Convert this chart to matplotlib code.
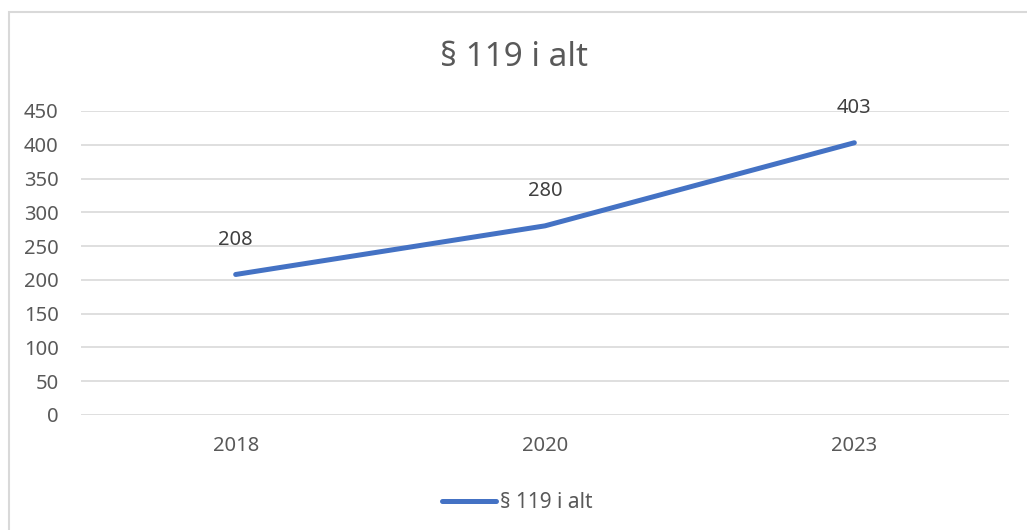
from matplotlib import pyplot as plt
from matplotlib.patches import Rectangle

years = ['2018', '2020', '2023']
values = [208, 280, 403]
series_name = '§ 119 i alt'
y_ticks = list(range(0, 451, 50))

plt.rcParams['font.family'] = ['Noto Sans', 'DejaVu Sans']

fig = plt.figure(figsize=(10.27, 5.30), dpi=100)
ax = fig.add_axes([81 / 1027, 1 - 415 / 530, 928 / 1027, 304 / 530])

x = range(len(years))
line, = ax.plot(x, values, color='#4472C4', linewidth=3.6, solid_capstyle='round',
                label=series_name)
for xi, v in zip(x, values):
    ax.annotate(str(v), (xi, v), xytext=(0, 25), textcoords='offset points',
                ha='center', va='center', fontsize=14.5, color='#404040')

ax.set_xlim(-0.5, len(years) - 0.5)
ax.set_ylim(0, 450)
ax.set_yticks(y_ticks)
ax.set_xticks(list(x))
ax.set_xticklabels(years)
ax.grid(axis='y', color='#d9d9d9', linewidth=1.2)
ax.set_axisbelow(True)
for s in ax.spines.values():
    s.set_visible(False)
ax.tick_params(length=0, labelsize=14.5, labelcolor='#595959')
ax.tick_params(axis='x', pad=15)
ax.tick_params(axis='y', pad=16)

fig.text(0.5, 1 - 57 / 530, series_name, ha='center', va='center',
         fontsize=24, color='#595959')

fig.legend(handles=[line], loc='center', bbox_to_anchor=(0.5 + 4 / 1027, 1 - 503 / 530),
           frameon=False, fontsize=15, labelcolor='#595959', handlelength=2.6,
           handletextpad=0.2)

# chart border (cropped on the right and bottom)
fig.add_artist(Rectangle((9 / 1027, -0.1), 1.2, 1.1 - 12 / 530,
                         transform=fig.transFigure, fill=False,
                         edgecolor='#d9d9d9', linewidth=1.5))

fig.savefig('out.png', dpi=100)
